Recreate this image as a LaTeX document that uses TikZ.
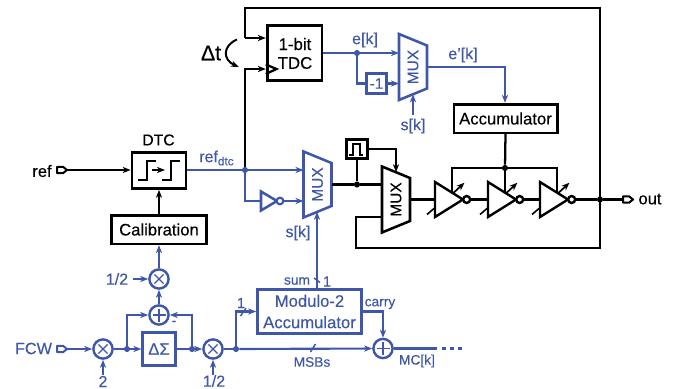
\documentclass[tikz,border=0pt]{standalone}
\usepackage{fontspec}
\setmainfont[FakeBold=0.25]{Liberation Sans}
\usetikzlibrary{arrows.meta}
\definecolor{bl}{HTML}{3F57A8}
\tikzset{
  x=0.75pt,y=-0.75pt,
  tip/.style={-{Stealth[length=6pt,width=4.6pt,inset=1.8pt]}},
  kw/.style={black,line width=1.7pt,line join=miter},
  bw/.style={bl,line width=1.6pt,line join=miter},
  kbox/.style={draw=black,line width=2pt,fill=white,inner sep=0pt,align=center,text=black,font=\fontsize{12.5}{15}\selectfont},
  bbox/.style={draw=bl,line width=1.9pt,fill=white,inner sep=0pt,align=center,text=bl,font=\fontsize{12.5}{15}\selectfont},
  kt/.style={black,inner sep=0pt,font=\fontsize{12.2}{14}\selectfont},
  bt/.style={bl,inner sep=0pt,font=\fontsize{12}{14}\selectfont},
  bs/.style={bl,inner sep=0pt,font=\fontsize{10.3}{12}\selectfont},
  kdot/.style={circle,fill=black,draw=none,minimum size=4.6pt,inner sep=0pt},
  bdot/.style={circle,fill=bl,draw=none,minimum size=4.6pt,inner sep=0pt},
  opc/.style={circle,draw=bl,line width=1.8pt,fill=white,minimum size=14.4pt,inner sep=0pt},
  mult/.style={opc,path picture={
     \draw[bl,line width=1pt] ([shift={(-4.6,-4.6)}]path picture bounding box.center)--([shift={(4.6,4.6)}]path picture bounding box.center);
     \draw[bl,line width=1pt] ([shift={(-4.6,4.6)}]path picture bounding box.center)--([shift={(4.6,-4.6)}]path picture bounding box.center);}},
  addr/.style={opc,path picture={
     \draw[bl,line width=1pt] ([shift={(-6.5,0)}]path picture bounding box.center)--([shift={(6.5,0)}]path picture bounding box.center);
     \draw[bl,line width=1pt] ([shift={(0,-6.5)}]path picture bounding box.center)--([shift={(0,6.5)}]path picture bounding box.center);}},
  muxshape/.pic={
    \draw[line join=miter] (0,-33)--(28,-21.5)--(28,21.5)--(0,33)--cycle;
    \node[rotate=90,inner sep=0pt,font=\fontsize{11.6}{14}\selectfont] (-txt) at (14,0) {MUX};
    \coordinate (-l) at (0,0);
    \coordinate (-r) at (28,0);
    \coordinate (-t) at (14,-27.3);
    \coordinate (-b) at (14,27.3);
  },
  invshape/.pic={
    \draw[line join=miter] (0,-17.5)--(28,0)--(0,17.5)--cycle;
    \node[circle,draw,fill=white,minimum size=5.2pt,inner sep=0pt] (-bub) at (31.7,0) {};
    \coordinate (-l) at (0,0);
    \coordinate (-ctl) at (17,-6.9);
    \draw[line width=1.3pt,tip] (18,-6.2)--(29.5,-16.8);
    \draw[line width=1.2pt] (-8,15)--(-1,9);
  },
  portshape/.pic={
    \draw[line join=round] (0,-3.2)--(6,-3.2)--(10,0)--(6,3.2)--(0,3.2)--cycle;
    \coordinate (-e) at (10,0);
    \coordinate (-w) at (0,0);
  },
}
\begin{document}
\begin{tikzpicture}
\useasboundingbox (0,0) rectangle (676,389);

% ---- boxes
\node[kbox,minimum width=41pt,minimum height=41.5pt] (tdc) at (294.5,53) {};
\node[kt,font=\fontsize{12.6}{14}\selectfont] (tdct1) at (295,44) {1-bit};
\node[kt,font=\fontsize{12.6}{14}\selectfont] (tdct2) at (295,63) {TDC};
\node[kbox,minimum width=77.5pt,minimum height=21.5pt] (acc) at (505.5,118.5) {Accumulator};
\node[kbox,minimum width=71pt,minimum height=21.5pt] (cal) at (159,229.5) {Calibration};
\node[kbox,minimum width=40.5pt,minimum height=27pt] (dtc) at (159,170.5) {};
\node[kt,font=\fontsize{11.8}{14}\selectfont] (dtcl) at (158.5,140) {DTC};
\node[kbox,minimum width=15.5pt,minimum height=14.5pt] (pulse) at (357,149) {};
\node[bbox,minimum width=15pt,minimum height=15pt,font=\fontsize{11.4}{14}\selectfont] (inv1) at (376.5,83.5) {-1};
\node[bbox,minimum width=24.5pt,minimum height=24.5pt] (ds) at (159,349) {ΔΣ};
\node[bbox,minimum width=78pt,minimum height=33pt] (modacc) at (309.5,311.5) {Modulo-2\\[1pt]Accumulator};

% ---- muxes, inverters, ports
\pic[color=black,line width=1.9pt] (mx2) at (382,199.5) {muxshape};
\pic[color=bl,line width=1.9pt] (mx1) at (303.5,184.5) {muxshape};
\pic[color=bl,line width=1.9pt] (mx3) at (399,67) {muxshape};
\pic[color=black,line width=1.8pt] (i1) at (435,199.5) {invshape};
\pic[color=black,line width=1.8pt] (i2) at (488,199.5) {invshape};
\pic[color=black,line width=1.8pt] (i3) at (540,199.5) {invshape};
\pic[color=black,line width=1.5pt] (pref) at (57,170) {portshape};
\pic[color=black,line width=1.5pt] (pout) at (623,199.5) {portshape};
\pic[color=bl,line width=1.5pt] (pfcw) at (57,349) {portshape};

% ---- operators
\node[mult] (m1) at (159,279) {};
\node[addr] (a1) at (159,315) {};
\node[mult] (m2) at (103,349) {};
\node[mult] (m3) at (213,349) {};
\node[addr] (a2) at (383,348.5) {};

% ---- junctions
\node[bdot] (jr) at (245,170) {};
\node[bdot] (je) at (357,53) {};
\node[kdot] (jm) at (357,184.5) {};
\node[kdot] (jc) at (505,168) {};
\node[kdot] (jo) at (600,199.5) {};
\node[bdot] (jf1) at (127,349) {};
\node[bdot] (jf2) at (192,349) {};
\node[bdot] (jf3) at (236,349) {};

% ---- free ends
\coordinate (tlu) at (245,38);
\coordinate (tll) at (245,69);
\coordinate (tl) at (245,8);
\coordinate (tr) at (600,8);
\coordinate (br) at (600,248);
\coordinate (bl1) at (356,248);
\coordinate (fb) at (356,217);
\coordinate (nt) at (261,201);
\coordinate (s1) at (413,115);
\coordinate (s2) at (317,244);
\coordinate (h2a) at (133,279);
\coordinate (two) at (103,375);
\coordinate (hf) at (213,375);
\coordinate (mce) at (437,348.5);
\coordinate (mcs) at (441.5,348.5);
\coordinate (mcd) at (463,348.5);

% ---- black wires
\draw[kw,tip] (pref-e) -- (dtc.west |- pref-e);
\draw[kw] (tlu) -- (tl) -- (tr) -- (br) -- (bl1) -- (fb) -- (mx2-l |- fb);
\draw[kw,tip] (tlu) -- (tdc.west |- tlu);
\draw[kw,tip] (jr) -- (tll) -- (tdc.west |- tll);
\draw[kw] (mx1-r |- jm) -- (jm) -- (mx2-l |- jm);
\draw[kw] (pulse.south) -- (jm);
\draw[kw,tip] (pulse.east) -| (mx2-t);
\draw[kw] (mx2-r) -- (i1-l);
\draw[kw] (i1-bub) -- (i2-l);
\draw[kw] (i2-bub) -- (i3-l);
\draw[kw] (i3-bub) -- (jo) -- (pout-w);
\draw[kw] (i1-ctl) |- (jc) -| (i3-ctl);
\draw[kw] (i2-ctl) -- (jc);
\draw[kw] (acc.south) -- (jc);
\draw[kw,tip] (cal.north) -- (dtc.south);

% ---- symbols in boxes
\draw[black,line width=1.6pt] (138,180)--(147,180)--(147,161)--(156,161);
\draw[black,line width=1.6pt] (162,180)--(171,180)--(171,161)--(180,161);
\draw[black,line width=1.5pt,tip] (152,170)--(165,170);
\draw[black,line width=1.4pt] (349,155)--(353,155)--(353,144)--(360,144)--(360,155)--(363,155);
\draw[black,line width=1.7pt,line join=miter] (tdc.west |- 0,64.5)--(276.5,69)--(tdc.west |- 0,74);

% ---- delta t
\node[kt,font=\fontsize{16}{18}\selectfont] (dt) at (211,53) {Δt};
\draw[black,line width=1.5pt,tip] (237,39.5) .. controls (222,46) and (223,60) .. (239,67);

% ---- blue wires
\draw[bw] (dtc.east |- jr) -- (jr);
\draw[bw,tip] (jr) -- (mx1-l |- jr);
\draw[bw] (jr) |- (nt);
\draw[bl,line width=1.9pt,line join=miter] (nt) ++(0,-9.5) -- (277,201) -- (261,210.5) -- cycle;
\node[circle,draw=bl,line width=1.6pt,fill=white,minimum size=5pt,inner sep=0pt] (nb) at (280,201) {};
\draw[bw,tip] (nb) -- (mx1-l |- nb);
\draw[bw] (tdc.east |- je) -- (je);
\draw[bw,tip] (je) -- (mx3-l |- je);
\draw[bw] (je) |- (inv1.west);
\draw[bw,tip] (inv1.east) -- (mx3-l |- inv1);
\draw[bw,tip] (mx3-r) -| (acc.north -| jc);
\draw[bw,tip] (s1) -- (mx3-b -| s1);
\draw[bw,tip] (modacc.north -| s2) -- (mx1-b -| s2);

\draw[bw,tip] (m1) -- (cal.south);
\draw[bw,tip] (a1) -- (m1);
\draw[bw,tip] (h2a) -- (m1);
\draw[bw,tip] (jf1) |- (a1);
\draw[bw,tip] (jf2) |- (a1);
\draw[bw,tip] (pfcw-e) -- (m2);
\draw[bw] (m2) -- (jf1);
\draw[bw,tip] (jf1) -- (ds.west);
\draw[bw] (ds.east) -- (jf2);
\draw[bw,tip] (jf2) -- (m3);
\draw[bw] (m3) -- (jf3);
\draw[bw,tip] (two) -- (m2);
\draw[bw,tip] (hf) -- (m3);
\draw[bw,tip] (jf3) |- (modacc.west);
\draw[bw,tip] (jf3) -- (a2);
\draw[bw,tip] (modacc.east) -| (a2);
\draw[bw] (a2) -- (mce);
\draw[bw,dash pattern=on 3.4pt off 2.6pt] (mcs) -- (mcd);

% ---- bus slashes
\draw[bl,line width=1.1pt] (240.5,316)--(246,308);
\draw[bl,line width=1.1pt] (314,278)--(320,282.5);
\draw[bl,line width=1.1pt] (310.5,352)--(315.5,344);

% ---- labels
\node[kt,font=\fontsize{12.4}{14}\selectfont] (lref) at (42,171) {ref};
\node[kt,font=\fontsize{12.4}{14}\selectfont] (lout) at (650,199) {out};
\node[bt,font=\fontsize{12.2}{14}\selectfont] (lfcw) at (33.5,348.5) {FCW};
\node[bt,anchor=west] (lrefd) at (199,158) {ref\raisebox{-2.4pt}{\fontsize{8.8}{10}\selectfont dtc}};
\node[bt] (lek) at (365,40) {e[k]};
\node[bt] (lepk) at (463,55) {e'[k]};
\node[bt] (ls1) at (413,126) {s[k]};
\node[bt] (ls2) at (298,233) {s[k]};
\node[bt] (lh1) at (117,279) {1/2};
\node[bt] (l2) at (103,381.5) {2};
\node[bt] (lh2) at (214,381) {1/2};
\node[bs] (lsum) at (297,281) {sum};
\node[bs,font=\fontsize{11}{13}\selectfont] (lone) at (327,281.5) {1};
\node[bs,font=\fontsize{11}{13}\selectfont] (lone2) at (241,303) {1};
\node[bs] (lcarry) at (380,304) {carry};
\node[bs] (lmsb) at (312,362) {MSBs};
\node[bs] (lmc) at (417,361) {MC[k]};
\node[bs,font=\fontsize{10}{12}\selectfont] (lminus) at (174,323) {-};
\end{tikzpicture}
\end{document}
